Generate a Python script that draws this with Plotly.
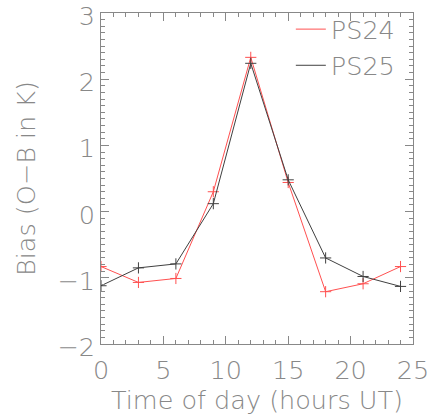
import plotly.graph_objects as go

hours = [0, 3, 6, 9, 12, 15, 18, 21, 24]
ps24 = [-0.83, -1.07, -1.01, 0.30, 2.33, 0.44, -1.21, -1.09, -0.83]
ps25 = [-1.12, -0.85, -0.79, 0.12, 2.24, 0.48, -0.70, -0.98, -1.13]

x_ticks = [0, 5, 10, 15, 20, 25]
y_ticks = [-2, -1, 0, 1, 2, 3]

GREY = "#888888"
FONT = "DejaVu Sans"
RED = "#ff5050"
DARK = "#404040"

fig = go.Figure()
for name, vals, col in [("PS24", ps24, RED), ("PS25", ps25, DARK)]:
    fig.add_trace(go.Scatter(
        x=hours, y=vals, name=name, mode="lines",
        line=dict(color=col, width=1), legendgroup=name,
    ))
    fig.add_trace(go.Scatter(
        x=hours, y=vals, name=name, mode="markers", showlegend=False,
        marker=dict(symbol="cross-thin", size=8, line=dict(color=col, width=1)),
        legendgroup=name,
    ))
# invisible trace to carry the mirrored top/right axes
fig.add_trace(go.Scatter(x=hours, y=ps24, xaxis="x2", yaxis="y2", mode="lines",
                         line=dict(width=0), opacity=0, showlegend=False, hoverinfo="skip"))

tick_common = dict(
    showgrid=False, zeroline=False, ticks="inside", tickcolor=GREY, ticklen=8, tickwidth=1,
    automargin=False,
)
tfont = dict(family=FONT, size=25.5, color=GREY, weight=200)

fig.update_layout(
    width=428, height=416,
    margin=dict(l=101, r=15, t=13, b=72, autoexpand=False),
    paper_bgcolor="white", plot_bgcolor="white",
    font=dict(family=FONT, color=GREY),
    xaxis=dict(
        range=[0, 25], tickvals=x_ticks, **tick_common,
        showline=True, linecolor=GREY, linewidth=1, mirror=True,
        tickfont=tfont, ticklabeloverflow="allow", ticklabelstandoff=3,
        minor=dict(dtick=1, ticks="inside", ticklen=4, tickcolor=GREY),
        title=dict(text="Time of day (hours UT)", font=tfont, standoff=1),
    ),
    yaxis=dict(
        range=[-2, 3], tickvals=y_ticks, **tick_common,
        showline=True, linecolor=GREY, linewidth=1, mirror=True,
        tickfont=tfont, ticklabeloverflow="allow", ticklabelshift=3,
        minor=dict(dtick=0.1, ticks="inside", ticklen=4, tickcolor=GREY),
        title=dict(text="Bias (O\u2212B in K)", font=tfont, standoff=14),
    ),
    xaxis2=dict(
        range=[0, 25], tickvals=x_ticks, **tick_common, overlaying="x", side="top",
        showticklabels=False, showline=False,
        minor=dict(dtick=1, ticks="inside", ticklen=4, tickcolor=GREY),
    ),
    yaxis2=dict(
        range=[-2, 3], tickvals=y_ticks, **tick_common, overlaying="y", side="right",
        showticklabels=False, showline=False,
        minor=dict(dtick=0.1, ticks="inside", ticklen=4, tickcolor=GREY),
    ),
    showlegend=True,
    legend=dict(
        x=0.961, y=1.021, xanchor="right", yanchor="top",
        bgcolor="rgba(0,0,0,0)", font=tfont,
        itemwidth=30, tracegroupgap=0,
    ),
)

fig.write_html("out.html")
